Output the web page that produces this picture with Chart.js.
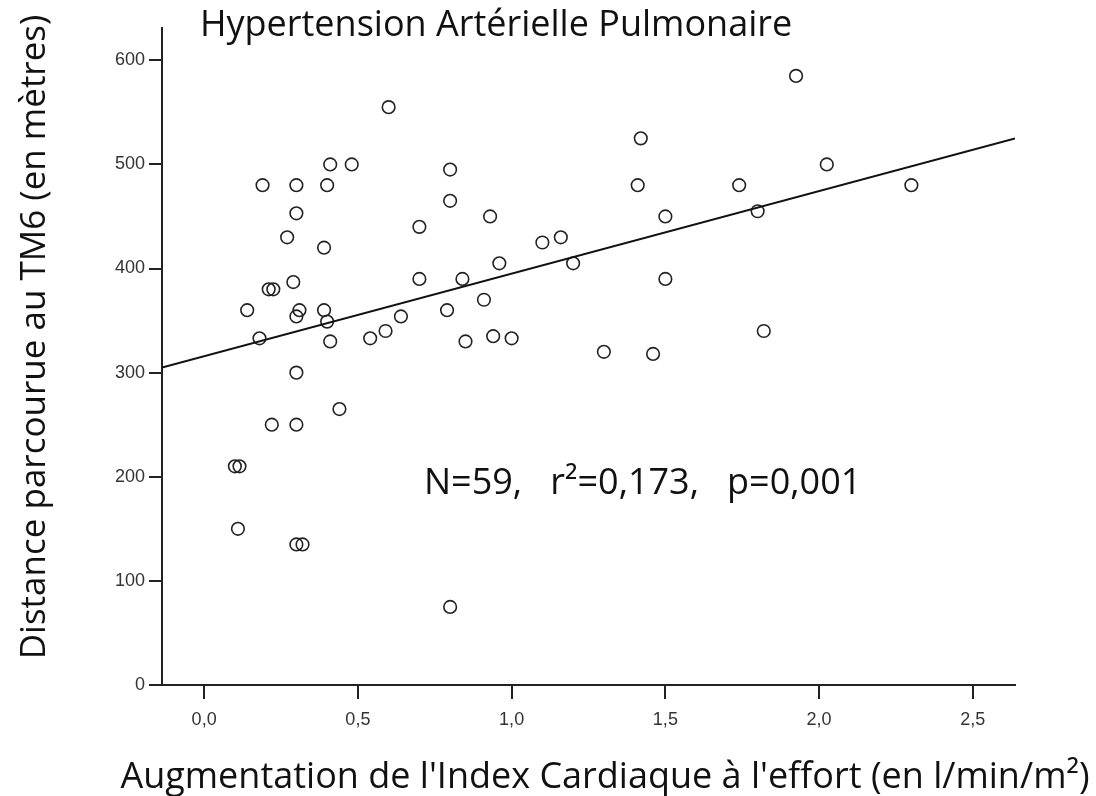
<!DOCTYPE html>
<html>
<head>
<meta charset="utf-8">
<script src="https://cdn.jsdelivr.net/npm/chart.js@4/dist/chart.umd.min.js"></script>
<style>
  html, body { margin: 0; padding: 0; background: #fff; }
  #chart { display: block; }
</style>
</head>
<body>
<canvas id="chart" width="1096" height="796"></canvas>
<script>
// values
const indexGain = [
  0.60, 0.41, 0.48, 0.19, 0.30, 0.40, 0.30, 0.27, 0.39, 0.29,
  0.21, 0.225, 0.14, 0.31, 0.30, 0.39, 0.40, 0.18, 0.41, 0.54,
  0.59, 0.64, 0.30, 0.44, 0.22, 0.30, 0.10, 0.115, 0.11, 0.30,
  0.32, 0.80, 0.80, 0.80, 0.70, 0.93, 1.10, 1.16, 0.96, 0.70,
  0.84, 1.20, 0.79, 0.91, 0.85, 0.94, 1.00, 1.30, 1.46, 1.42,
  1.41, 1.50, 1.50, 1.925, 1.74, 1.80, 2.025, 2.30, 1.82,
];
const distance = [
  555, 500, 500, 480, 480, 480, 453, 430, 420, 387,
  380, 380, 360, 360, 354, 360, 349, 333, 330, 333,
  340, 354, 300, 265, 250, 250, 210, 210, 150, 135,
  135, 75, 495, 465, 440, 450, 425, 430, 405, 390,
  390, 405, 360, 370, 330, 335, 333, 320, 318, 525,
  480, 450, 390, 585, 480, 455, 500, 480, 340,
];
// fitted line, ends read at the plot edges
const fitX = [-0.137, 2.637];
const fitY = [305, 525];

const xTicks = [0, 0.5, 1, 1.5, 2, 2.5];
const xTickLabels = ["0,0", "0,5", "1,0", "1,5", "2,0", "2,5"];
const yTicks = [0, 100, 200, 300, 400, 500, 600];

const chartTitle = "Hypertension Artérielle Pulmonaire";
const statsText = "N=59,   r²=0,173,   p=0,001";
const xTitle = "Augmentation de l'Index Cardiaque à l'effort (en l/min/m²)";
const yTitle = "Distance parcourue au TM6 (en mètres)";

const textFont = "'Open Sans', 'DejaVu Sans', sans-serif";
const tickFont = "'Liberation Sans', Arial, sans-serif";

const points = indexGain.map((x, i) => ({ x, y: distance[i] }));
const fitLine = fitX.map((x, i) => ({ x, y: fitY[i] }));

const labelsPlugin = {
  id: "labels",
  afterDraw(chart) {
    const { ctx } = chart;
    ctx.save();
    ctx.fillStyle = "#111";
    ctx.textBaseline = "alphabetic";

    ctx.font = `36px ${textFont}`;
    ctx.textAlign = "left";
    ctx.fillText(chartTitle, 200, 36);

    ctx.font = `36px ${textFont}`;
    ctx.fillText(statsText, 424, 494);

    ctx.font = `36px ${textFont}`;
    ctx.textAlign = "center";
    ctx.fillText(xTitle, 605, 788);

    ctx.font = `35px ${textFont}`;
    ctx.translate(45, 337);
    ctx.rotate(-Math.PI / 2);
    ctx.fillText(yTitle, 0, 0);
    ctx.restore();
  },
};

new Chart(document.querySelector("#chart"), {
  type: "scatter",
  data: {
    datasets: [
      {
        label: "Patients",
        data: points,
        pointStyle: "circle",
        pointRadius: 6.3,
        pointBorderWidth: 1.6,
        pointBorderColor: "#222",
        pointBackgroundColor: "rgba(255,255,255,0)",
        order: 2,
      },
      {
        label: "Régression",
        type: "line",
        data: fitLine,
        borderColor: "#111",
        borderWidth: 2,
        pointRadius: 0,
        fill: false,
        order: 1,
      },
    ],
  },
  options: {
    responsive: false,
    animation: false,
    events: [],
    layout: { padding: { top: 28, right: 81, left: 0, bottom: 0 } },
    plugins: { legend: { display: false }, tooltip: { enabled: false } },
    scales: {
      x: {
        type: "linear",
        min: -0.137,
        max: 2.637,
        afterFit(scale) { scale.height = 111; },
        afterBuildTicks(scale) { scale.ticks = xTicks.map((value) => ({ value })); },
        border: { display: true, color: "#222", width: 2 },
        grid: { drawOnChartArea: false, color: "#222", lineWidth: 2, tickLength: 14 },
        ticks: {
          padding: 10,
          color: "#333",
          font: { family: tickFont, size: 18 },
          callback: (value, index) => xTickLabels[index],
        },
      },
      y: {
        type: "linear",
        min: 0,
        max: 631,
        afterFit(scale) { scale.width = 162; },
        afterBuildTicks(scale) { scale.ticks = yTicks.map((value) => ({ value })); },
        border: { display: true, color: "#222", width: 2 },
        grid: { drawOnChartArea: false, color: "#222", lineWidth: 2, tickLength: 13 },
        ticks: {
          padding: 4,
          color: "#333",
          font: { family: tickFont, size: 18 },
        },
      },
    },
  },
  plugins: [labelsPlugin],
});
</script>
</body>
</html>
